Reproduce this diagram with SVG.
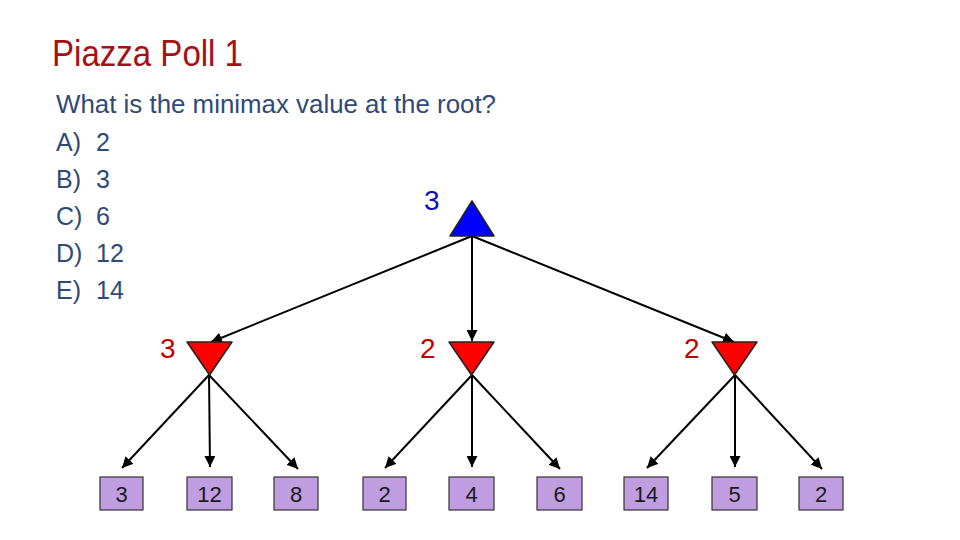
<svg xmlns="http://www.w3.org/2000/svg" width="960" height="540" viewBox="0 0 960 540">
<style>
.q{font-family:"Liberation Sans",Arial,sans-serif;font-size:25px;fill:#2f4a78}
.lbl{font-family:"Liberation Sans",Arial,sans-serif;font-size:28px}
.leaf rect{fill:#c09de0;stroke:#333;stroke-width:1.2}
.leaf text{font-family:"Liberation Sans",Arial,sans-serif;font-size:22px;fill:#1a1a1a;text-anchor:middle}
.edge{stroke:#000;stroke-width:2;fill:none;marker-end:url(#ah)}
.min{fill:#ff0000;stroke:#222;stroke-width:1.5;stroke-linejoin:round}
.max{fill:#0000ff;stroke:#222;stroke-width:1.5;stroke-linejoin:round}
</style>
<defs>
<marker id="ah" viewBox="0 0 10 10" refX="10" refY="5" markerWidth="5.5" markerHeight="5.5" orient="auto" markerUnits="strokeWidth">
<path d="M0,0 L10,5 L0,10 z" fill="#000"/>
</marker>
</defs>
<rect width="960" height="540" fill="#fff"/>
<text x="52" y="66" font-family="Liberation Sans,Arial,sans-serif" font-size="36" fill="#a50f15" textLength="191" lengthAdjust="spacingAndGlyphs">Piazza Poll 1</text>
<g id="question">
<text class="q" x="56" y="113" textLength="440" lengthAdjust="spacingAndGlyphs">What is the minimax value at the root?</text>
<text class="q" x="56" y="151">A)</text><text class="q" x="96" y="151">2</text>
<text class="q" x="56" y="188">B)</text><text class="q" x="96" y="188">3</text>
<text class="q" x="56" y="225">C)</text><text class="q" x="96" y="225">6</text>
<text class="q" x="56" y="262">D)</text><text class="q" x="96" y="262">12</text>
<text class="q" x="56" y="299">E)</text><text class="q" x="96" y="299">14</text>
</g>
<g id="connectors">
<line class="edge" x1="472" y1="236" x2="211" y2="342"/>
<line class="edge" x1="472" y1="236" x2="472" y2="341"/>
<line class="edge" x1="472" y1="236" x2="734" y2="342"/>
<line class="edge" x1="209" y1="375" x2="122" y2="468"/>
<line class="edge" x1="209" y1="375" x2="210" y2="467"/>
<line class="edge" x1="209" y1="375" x2="298" y2="469"/>
<line class="edge" x1="472" y1="375" x2="385" y2="468"/>
<line class="edge" x1="472" y1="375" x2="472" y2="467"/>
<line class="edge" x1="472" y1="375" x2="560" y2="469"/>
<line class="edge" x1="735" y1="375" x2="647" y2="468"/>
<line class="edge" x1="735" y1="375" x2="735" y2="467"/>
<line class="edge" x1="735" y1="375" x2="822" y2="469"/>
</g>
<g id="root">
<polygon class="max" points="472,201 494,236 450,236"/>
<text class="lbl" x="424" y="210" fill="#1010c0">3</text>
</g>
<g id="min1">
<polygon class="min" points="187,342 232,342 209.5,375"/>
<text class="lbl" x="160" y="358" fill="#c00000">3</text>
</g>
<g id="min2">
<polygon class="min" points="449,342 494,342 471.5,375"/>
<text class="lbl" x="420" y="358" fill="#c00000">2</text>
</g>
<g id="min3">
<polygon class="min" points="712,342 757,342 734.5,375"/>
<text class="lbl" x="684" y="358" fill="#c00000">2</text>
</g>
<g id="leaf1" class="leaf"><rect x="100" y="477" width="43" height="33"/><text x="121.5" y="501.5">3</text></g>
<g id="leaf2" class="leaf"><rect x="187" y="477" width="45" height="33"/><text x="209.5" y="501.5">12</text></g>
<g id="leaf3" class="leaf"><rect x="274" y="477" width="44" height="33"/><text x="296" y="501.5">8</text></g>
<g id="leaf4" class="leaf"><rect x="363" y="477" width="43" height="33"/><text x="384.5" y="501.5">2</text></g>
<g id="leaf5" class="leaf"><rect x="449" y="477" width="45" height="33"/><text x="471.5" y="501.5">4</text></g>
<g id="leaf6" class="leaf"><rect x="537" y="477" width="45" height="33"/><text x="559.5" y="501.5">6</text></g>
<g id="leaf7" class="leaf"><rect x="624" y="477" width="44" height="33"/><text x="646" y="501.5">14</text></g>
<g id="leaf8" class="leaf"><rect x="712" y="477" width="45" height="33"/><text x="734.5" y="501.5">5</text></g>
<g id="leaf9" class="leaf"><rect x="799" y="477" width="44" height="33"/><text x="821" y="501.5">2</text></g>
</svg>
